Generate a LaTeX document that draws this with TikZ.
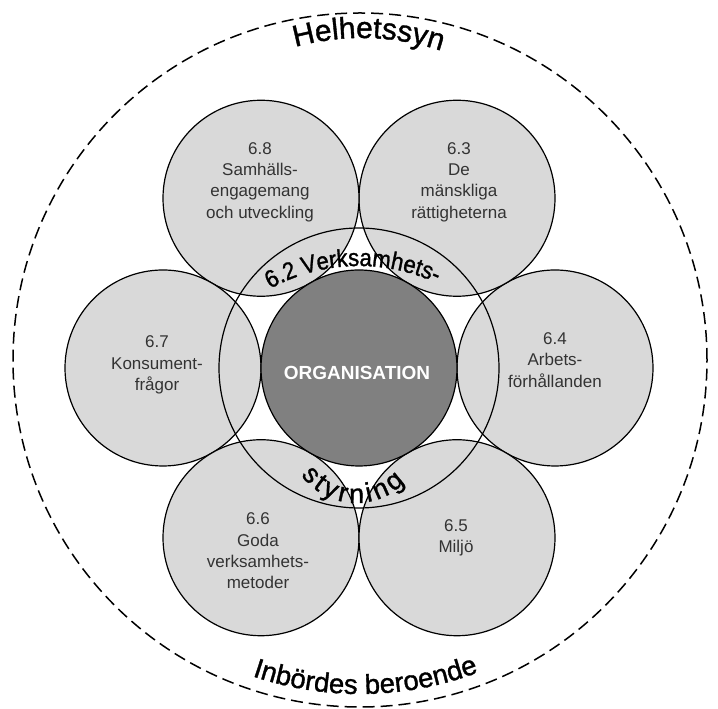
\documentclass[tikz,border=0pt]{standalone}
\usepackage{fontspec}
\setmainfont{Liberation Sans}
\newfontfamily\curvefont{Liberation Sans}[FakeBold=1.2]
\newfontfamily\curvenarrow{Liberation Sans}[FakeBold=1.2, FakeStretch=0.9]
\usetikzlibrary{decorations.text}
\definecolor{smallgrey}{HTML}{D9D9D9}
\definecolor{orggrey}{HTML}{808080}
\definecolor{textgrey}{HTML}{333333}
\begin{document}
\begin{tikzpicture}[x=1pt,y=1pt,
  dashring/.style={circle, draw=black, line width=1.5pt, dash pattern=on 12pt off 6pt, minimum size=694pt, inner sep=0pt},
  smallc/.style={circle, draw=black, line width=1.2pt, fill=smallgrey, minimum size=196pt, inner sep=0pt},
  ringc/.style={circle, draw=black, line width=1.2pt, minimum size=280pt, inner sep=0pt},
  orgc/.style={circle, draw=black, line width=1.2pt, fill=orggrey, minimum size=196pt, inner sep=0pt},
  lbl/.style={align=center, text=textgrey, font=\fontsize{17}{21.3}\selectfont, inner sep=0pt},
  orglbl/.style={text=white, font=\bfseries\fontsize{19}{19}\selectfont, inner sep=0pt}
]
\useasboundingbox (0,0) rectangle (718,709);
\coordinate (O) at (360,349);
\coordinate (C) at (359,341);
\coordinate (HC) at (362,421);
\coordinate (VC) at (359,259);
\coordinate (SC) at (356,274);

\node[dashring] (outer) at (O) {};

\node[smallc] (c64) at ([shift={(0:196)}]C) {};
\node[smallc] (c63) at ([shift={(60:196)}]C) {};
\node[smallc] (c68) at ([shift={(120:196)}]C) {};
\node[smallc] (c67) at ([shift={(180:196)}]C) {};
\node[smallc] (c66) at ([shift={(240:196)}]C) {};
\node[smallc] (c65) at ([shift={(300:196)}]C) {};

\node[ringc] (ring) at (C) {};
\node[orgc] (org) at (C) {};

\node[orglbl] (torg) at (357,336) {ORGANISATION};
\node[lbl] (t68) at (260,527) {6.8\\Samhälls-\\engagemang\\och utveckling};
\node[lbl] (t63) at (459,527) {6.3\\De\\mänskliga\\rättigheterna};
\node[lbl] (t67) at (157,344) {6.7\\Konsument-\\frågor};
\node[lbl] (t64) at (555,349) {6.4\\Arbets-\\förhållanden};
\node[lbl] (t66) at (258,158) {6.6\\Goda\\verksamhets-\\metoder};
\node[lbl] (t65) at (456,171) {6.5\\Miljö};

\path[decorate, decoration={text along path, text align=center,
  text={|\curvefont\fontsize{30}{30}\selectfont|Helhetssyn}}]
  ([shift={(108:250)}]HC) arc[start angle=108, end angle=69, radius=250];
\path[decorate, decoration={text along path, text align=center,
  text={|\curvefont\fontsize{27.5}{27.5}\selectfont|Inbördes beroende}}]
  ([shift={(248:334)}]O) arc[start angle=248, end angle=294, radius=334];
\path[decorate, decoration={text along path, text align=center,
  text={|\curvenarrow\fontsize{24.5}{24.5}\selectfont|6.2 Verksamhets-}}]
  ([shift={(125:184)}]VC) arc[start angle=125, end angle=59, radius=184];
\path[decorate, decoration={text along path, text align={fit to path},
  text={|\curvefont\fontsize{27}{27}\selectfont|styrning}}]
  ([shift={(216:68)}]SC) arc[start angle=216, end angle=316, radius=68];
\end{tikzpicture}
\end{document}
